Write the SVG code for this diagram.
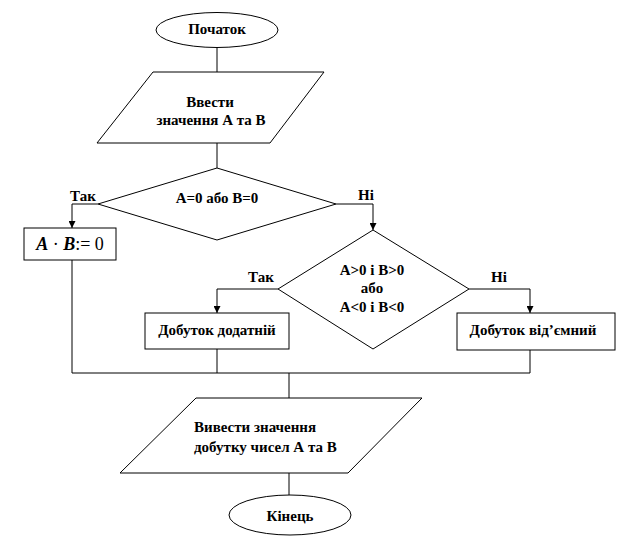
<svg xmlns="http://www.w3.org/2000/svg" width="618" height="543" viewBox="0 0 618 543">
<style>
.s{fill:#fff;stroke:#000;stroke-width:1}
.c{fill:none;stroke:#000;stroke-width:1}
.t{font-family:'Liberation Serif','DejaVu Serif','Times New Roman',serif;font-weight:700;font-size:15px;fill:#000}
.m{text-anchor:middle}
.e{font-family:'Liberation Serif','DejaVu Serif','Times New Roman',serif;font-size:18px;fill:#000}
</style>
<defs>
<marker id="a" viewBox="0 0 8 8" refX="8" refY="4" markerWidth="7" markerHeight="7" markerUnits="userSpaceOnUse" orient="auto">
<path d="M0,0 L8,4 L0,8 z" fill="#000"/>
</marker>
</defs>
<rect width="618" height="543" fill="#fff"/>
<g id="connectors">
<line class="c" x1="217" y1="47" x2="217" y2="72"/>
<line class="c" x1="217" y1="143" x2="217" y2="168"/>
<polyline class="c" points="98,204 72,204 72,228" marker-end="url(#a)"/>
<polyline class="c" points="336,204 373,204 373,230" marker-end="url(#a)"/>
<polyline class="c" points="278,289 217,289 217,313" marker-end="url(#a)"/>
<polyline class="c" points="469,289 530,289 530,313" marker-end="url(#a)"/>
<line class="c" x1="72" y1="260" x2="72" y2="373"/>
<line class="c" x1="217" y1="349" x2="217" y2="373"/>
<line class="c" x1="530" y1="350" x2="530" y2="373"/>
<line class="c" x1="72" y1="373" x2="530" y2="373"/>
<line class="c" x1="289" y1="373" x2="289" y2="398"/>
<line class="c" x1="289" y1="473" x2="289" y2="495"/>
</g>
<g id="start">
<ellipse class="s" cx="217" cy="30" rx="61" ry="17.5"/>
<text class="t m" font-family="Liberation Serif, serif" x="217" y="34">Початок</text>
</g>
<g id="input">
<polygon class="s" points="153,72 324,72 270,143 97,143"/>
<text class="t m" x="210" y="107">Ввести</text>
<text class="t m" x="211" y="125">значення А та В</text>
</g>
<g id="cond1">
<polygon class="s" points="217,168 336,204 217,240 98,204"/>
<text class="t m" x="217" y="203">А=0 або В=0</text>
<text class="t" x="70" y="201">Так</text>
<text class="t" x="358" y="200">Ні</text>
</g>
<g id="zero">
<rect class="s" x="24" y="228" width="92" height="32"/>
<text class="e" x="70" y="250" text-anchor="middle"><tspan font-style="italic" font-weight="bold">A</tspan> · <tspan font-style="italic" font-weight="bold">B</tspan>:= 0</text>
</g>
<g id="cond2">
<polygon class="s" points="373,230 469,289 373,349 278,289"/>
<text class="t m" x="372" y="275">А&gt;0 і В&gt;0</text>
<text class="t m" x="372" y="293">або</text>
<text class="t m" x="372" y="312">А&lt;0 і В&lt;0</text>
<text class="t" x="248" y="282">Так</text>
<text class="t" x="491" y="282">Ні</text>
</g>
<g id="positive">
<rect class="s" x="145" y="313" width="144" height="36"/>
<text class="t m" x="217" y="335">Добуток додатній</text>
</g>
<g id="negative">
<rect class="s" x="457" y="313" width="158" height="37"/>
<text class="t m" x="533" y="335">Добуток від’ємний</text>
</g>
<g id="output">
<polygon class="s" points="196,398 422,398 348,473 120,473"/>
<text class="t" x="194" y="432">Вивести значення</text>
<text class="t" x="194" y="452">добутку  чисел А та В</text>
</g>
<g id="end">
<ellipse class="s" cx="290" cy="515" rx="61" ry="20"/>
<text class="t m" x="290" y="521">Кінець</text>
</g>
</svg>
